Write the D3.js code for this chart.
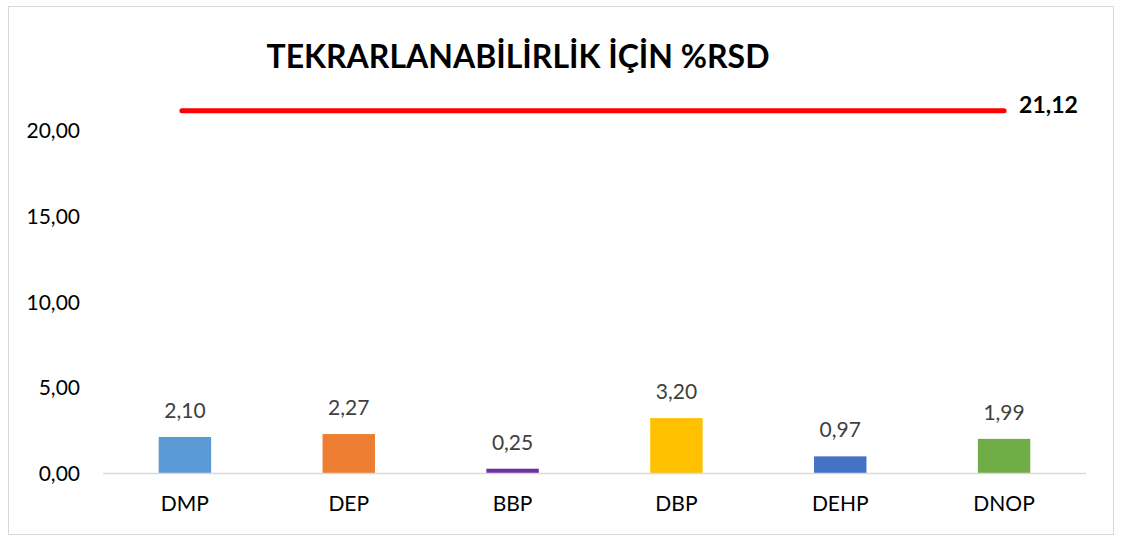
<!DOCTYPE html>
<html>
<head>
<meta charset="utf-8">
<script src="https://cdn.jsdelivr.net/npm/d3@7"></script>
<style>
  body { margin: 0; background: #fff; }
  svg { display: block; font-family: Lato, "Open Sans", sans-serif; }
</style>
</head>
<body>
<svg id="chart" width="1122" height="537"></svg>
<script>
// Chart data
const categories = ['DMP', 'DEP', 'BBP', 'DBP', 'DEHP', 'DNOP'];
const values = [2.10, 2.27, 0.25, 3.20, 0.97, 1.99];
const barColors = ['#5B9BD5', '#ED7D31', '#7030A0', '#FFC000', '#4472C4', '#70AD47'];
const yTicks = [0, 5, 10, 15, 20];
const limitValue = 21.12;
const title = 'TEKRARLANABİLİRLİK İÇİN %RSD';

const svg = d3.select('#chart');
const fmt = v => d3.format('.2f')(v).replace('.', ',');

// Outer frame
svg.append('rect')
  .attr('x', 8.5).attr('y', 6.5)
  .attr('width', 1105).attr('height', 528)
  .attr('fill', '#fff')
  .attr('stroke', '#d9d9d9');

// Scales
const x = d3.scaleBand()
  .domain(categories)
  .range([103, 1086])
  .paddingInner(0.68)
  .paddingOuter(0.34);

const y = d3.scaleLinear()
  .domain([0, 20])
  .range([473, 130]);

// Title
svg.append('text')
  .attr('x', 518).attr('y', 68)
  .attr('text-anchor', 'middle')
  .attr('font-size', 32)
  .attr('font-weight', 'bold')
  .attr('fill', '#000')
  .text(title);

// Y axis labels (no axis line, no grid)
svg.append('g')
  .selectAll('text')
  .data(yTicks)
  .join('text')
  .attr('x', 80)
  .attr('y', d => y(d) + 8)
  .attr('text-anchor', 'end')
  .attr('font-size', 21)
  .attr('fill', '#000')
  .text(d => fmt(d));

// Bars
svg.append('g')
  .selectAll('rect')
  .data(values)
  .join('rect')
  .attr('x', (d, i) => x(categories[i]))
  .attr('y', d => y(d))
  .attr('width', x.bandwidth())
  .attr('height', d => y(0) - y(d))
  .attr('fill', (d, i) => barColors[i]);

// Baseline
svg.append('line')
  .attr('x1', 103).attr('x2', 1086)
  .attr('y1', y(0) + 0.5).attr('y2', y(0) + 0.5)
  .attr('stroke', '#d9d9d9')
  .attr('stroke-width', 1.5);

// Data labels
svg.append('g')
  .selectAll('text')
  .data(values)
  .join('text')
  .attr('x', (d, i) => x(categories[i]) + x.bandwidth() / 2)
  .attr('y', d => y(d) - 19)
  .attr('text-anchor', 'middle')
  .attr('font-size', 21)
  .attr('fill', '#404040')
  .text(d => fmt(d));

// Category labels
svg.append('g')
  .selectAll('text')
  .data(categories)
  .join('text')
  .attr('x', d => x(d) + x.bandwidth() / 2)
  .attr('y', 511)
  .attr('text-anchor', 'middle')
  .attr('font-size', 21)
  .attr('fill', '#000')
  .text(d => d);

// Limit line
const first = categories[0], last = categories[categories.length - 1];
const x1 = x(first) + x.bandwidth() / 2 - 3;
const x2 = x(last) + x.bandwidth() / 2;
svg.append('line')
  .attr('x1', x1).attr('x2', x2)
  .attr('y1', y(limitValue)).attr('y2', y(limitValue))
  .attr('stroke', '#ff0000')
  .attr('stroke-width', 5)
  .attr('stroke-linecap', 'round');

svg.append('text')
  .attr('x', x2 + 15)
  .attr('y', y(limitValue) + 2)
  .attr('font-size', 23)
  .attr('font-weight', 'bold')
  .attr('fill', '#000')
  .text(fmt(limitValue));
</script>
</body>
</html>
